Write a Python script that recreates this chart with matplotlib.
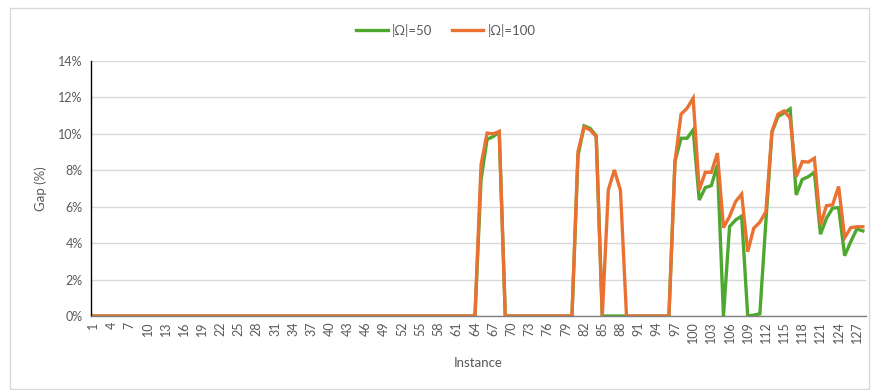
import matplotlib
matplotlib.use("Agg")
import matplotlib.pyplot as plt
from matplotlib.patches import Rectangle
from matplotlib.ticker import FuncFormatter

# instances 1..128, gap values in percent
instances = list(range(1, 129))

# non-zero stretches, everything else is 0
omega50_nonzero = {
    65: 7.5, 66: 9.7, 67: 9.85, 68: 10.1,
    81: 8.8, 82: 10.44, 83: 10.3, 84: 9.9,
    97: 8.5, 98: 9.76, 99: 9.76, 100: 10.22, 101: 6.37, 102: 7.05, 103: 7.16, 104: 8.3,
    105: 0.0, 106: 4.91, 107: 5.27, 108: 5.49, 109: 0.0, 110: 0.05, 111: 0.12, 112: 5.2,
    113: 10.1, 114: 10.95, 115: 11.15, 116: 11.37, 117: 6.65, 118: 7.5, 119: 7.65, 120: 7.89,
    121: 4.49, 122: 5.37, 123: 5.92, 124: 5.95, 125: 3.31, 126: 4.08, 127: 4.78, 128: 4.67,
}
omega100_nonzero = {
    65: 8.3, 66: 10.04, 67: 10.0, 68: 10.13,
    81: 9.03, 82: 10.37, 83: 10.22, 84: 9.85, 86: 6.92, 87: 8.02, 88: 6.9,
    97: 8.48, 98: 11.08, 99: 11.41, 100: 11.96, 101: 6.92, 102: 7.89, 103: 7.89, 104: 8.94,
    105: 4.85, 106: 5.46, 107: 6.28, 108: 6.69, 109: 3.53, 110: 4.82, 111: 5.15, 112: 5.73,
    113: 10.13, 114: 11.08, 115: 11.26, 116: 10.86, 117: 7.65, 118: 8.48, 119: 8.45, 120: 8.66,
    121: 5.0, 122: 6.06, 123: 6.1, 124: 7.11, 125: 4.3, 126: 4.85, 127: 4.9, 128: 4.9,
}
omega50 = [omega50_nonzero.get(i, 0.0) for i in instances]
omega100 = [omega100_nonzero.get(i, 0.0) for i in instances]

plt.rcParams['font.family'] = ['Lato', 'DejaVu Sans']
text_color = '#595959'

fig = plt.figure(figsize=(8.72, 3.9), dpi=100)
fig.patches.append(Rectangle((0.011, 0.003), 0.986, 0.976, transform=fig.transFigure,
                             fill=False, edgecolor='#D9D9D9', linewidth=1))
ax = fig.add_axes([0.1044, 0.1897, 0.8886, 0.6539])

ax.plot(instances, omega50, color='#4EA72E', linewidth=2.4, label='|Ω|=50', solid_joinstyle='miter')
ax.plot(instances, omega100, color='#E97132', linewidth=2.4, label='|Ω|=100', solid_joinstyle='miter')

ax.set_xlim(0.65, 128.5)
ax.set_ylim(0, 14)
ax.set_yticks(range(0, 15, 2))
ax.yaxis.set_major_formatter(FuncFormatter(lambda v, p: f"{int(v)}%"))
ax.set_xticks(instances[::3])
ax.set_xticklabels([str(i) for i in instances[::3]], rotation=90)
ax.tick_params(axis='both', colors=text_color, labelsize=9, length=0)
ax.tick_params(axis='x', pad=4)
ax.tick_params(axis='y', pad=6)

ax.grid(axis='y', color='#D9D9D9', linewidth=1)
ax.set_axisbelow(True)
for side in ['top', 'right']:
    ax.spines[side].set_visible(False)
ax.spines['left'].set_color('black')
ax.spines['left'].set_linewidth(1)
ax.spines['bottom'].set_color('#7F7F7F')
ax.spines['bottom'].set_linewidth(1)

ax.set_xlabel('Instance', color=text_color, fontsize=9.5, labelpad=10)
ax.set_ylabel('Gap (%)', color=text_color, fontsize=9.5, labelpad=8)

fig.legend(loc='center', bbox_to_anchor=(0.511, 0.923), ncol=2, frameon=False,
           fontsize=9.5, labelcolor=text_color, handlelength=2.4, columnspacing=1.5,
           handletextpad=0.3)

fig.savefig('out.png', dpi=100)
